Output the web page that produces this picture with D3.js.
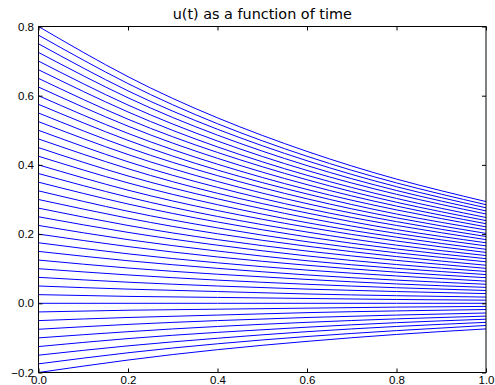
<!DOCTYPE html>
<html>
<head>
<meta charset="utf-8">
<script src="https://cdn.jsdelivr.net/npm/d3@7"></script>
<style>
  body { margin: 0; background: #fff; }
  svg { display: block; font-family: "DejaVu Sans", sans-serif; }
  .tick text { font-size: 11.5px; fill: #000; }
  .title { font-size: 14.4px; }
</style>
</head>
<body>
<div id="chart"></div>
<script>
// sample times along the x axis
var times = [0, 0.2, 0.4, 0.6, 0.8, 1.0];

// u(t) for each curve, read at the times above
var curves = [
  [0.800, 0.655, 0.536, 0.439, 0.359, 0.294],
  [0.775, 0.635, 0.519, 0.425, 0.348, 0.285],
  [0.750, 0.614, 0.503, 0.412, 0.337, 0.276],
  [0.725, 0.594, 0.486, 0.398, 0.326, 0.267],
  [0.700, 0.573, 0.469, 0.384, 0.315, 0.258],
  [0.675, 0.553, 0.452, 0.370, 0.303, 0.248],
  [0.650, 0.532, 0.436, 0.357, 0.292, 0.239],
  [0.625, 0.512, 0.419, 0.343, 0.281, 0.230],
  [0.600, 0.491, 0.402, 0.329, 0.270, 0.221],
  [0.575, 0.471, 0.385, 0.316, 0.258, 0.212],
  [0.550, 0.450, 0.369, 0.302, 0.247, 0.202],
  [0.525, 0.430, 0.352, 0.288, 0.236, 0.193],
  [0.500, 0.409, 0.335, 0.274, 0.225, 0.184],
  [0.475, 0.389, 0.318, 0.261, 0.213, 0.175],
  [0.450, 0.368, 0.302, 0.247, 0.202, 0.166],
  [0.425, 0.348, 0.285, 0.233, 0.191, 0.156],
  [0.400, 0.327, 0.268, 0.220, 0.180, 0.147],
  [0.375, 0.307, 0.251, 0.206, 0.168, 0.138],
  [0.350, 0.287, 0.235, 0.192, 0.157, 0.129],
  [0.325, 0.266, 0.218, 0.178, 0.146, 0.120],
  [0.300, 0.246, 0.201, 0.165, 0.135, 0.110],
  [0.275, 0.225, 0.184, 0.151, 0.124, 0.101],
  [0.250, 0.205, 0.168, 0.137, 0.112, 0.092],
  [0.225, 0.184, 0.151, 0.123, 0.101, 0.083],
  [0.200, 0.164, 0.134, 0.110, 0.090, 0.074],
  [0.175, 0.143, 0.117, 0.096, 0.079, 0.064],
  [0.150, 0.123, 0.101, 0.082, 0.067, 0.055],
  [0.125, 0.102, 0.084, 0.069, 0.056, 0.046],
  [0.100, 0.082, 0.067, 0.055, 0.045, 0.037],
  [0.075, 0.061, 0.050, 0.041, 0.034, 0.028],
  [0.050, 0.041, 0.034, 0.027, 0.022, 0.018],
  [0.025, 0.020, 0.017, 0.014, 0.011, 0.009],
  [0.000, 0.000, 0.000, 0.000, 0.000, 0.000],
  [-0.025, -0.020, -0.017, -0.014, -0.011, -0.009],
  [-0.050, -0.041, -0.034, -0.027, -0.022, -0.018],
  [-0.075, -0.061, -0.050, -0.041, -0.034, -0.028],
  [-0.100, -0.082, -0.067, -0.055, -0.045, -0.037],
  [-0.125, -0.102, -0.084, -0.069, -0.056, -0.046],
  [-0.150, -0.123, -0.101, -0.082, -0.067, -0.055],
  [-0.175, -0.143, -0.117, -0.096, -0.079, -0.064],
  [-0.200, -0.164, -0.134, -0.110, -0.090, -0.074]
];

var xTicks = [0, 0.2, 0.4, 0.6, 0.8, 1.0];
var yTicks = [-0.2, 0, 0.2, 0.4, 0.6, 0.8];

var width = 495, height = 385;
var margin = { top: 26.5, right: 9, bottom: 12.5, left: 38.5 };

var svg = d3.select('#chart').append('svg')
  .attr('width', width)
  .attr('height', height);

var x = d3.scaleLinear()
  .domain([0, 1])
  .range([margin.left, width - margin.right]);

var y = d3.scaleLinear()
  .domain([-0.2, 0.8])
  .range([height - margin.bottom, margin.top]);

var fmt = function(d) { return d3.format('.1f')(d).replace('-', '\u2212'); };

// curves
var line = d3.line()
  .x(function(d, i) { return x(times[i]); })
  .y(function(d) { return y(d); })
  .curve(d3.curveNatural);

svg.append('g')
  .selectAll('path')
  .data(curves)
  .enter()
  .append('path')
  .attr('d', line)
  .attr('fill', 'none')
  .attr('stroke', '#0000ff')
  .attr('stroke-width', 1);

// axes, ticks pointing inward
var tickLen = 4;
svg.append('g')
  .attr('transform', 'translate(0,' + y(-0.2) + ')')
  .call(d3.axisBottom(x).tickValues(xTicks).tickSize(-tickLen).tickPadding(3.5).tickFormat(fmt))
  .call(function(g) { g.select('.domain').remove(); });

svg.append('g')
  .attr('transform', 'translate(0,' + y(0.8) + ')')
  .call(d3.axisTop(x).tickValues(xTicks).tickSize(-tickLen).tickFormat(''))
  .call(function(g) { g.select('.domain').remove(); });

svg.append('g')
  .attr('transform', 'translate(' + x(0) + ',0)')
  .call(d3.axisLeft(y).tickValues(yTicks).tickSize(-tickLen).tickPadding(4.5).tickFormat(fmt))
  .call(function(g) { g.select('.domain').remove(); });

svg.append('g')
  .attr('transform', 'translate(' + x(1) + ',0)')
  .call(d3.axisRight(y).tickValues(yTicks).tickSize(-tickLen).tickFormat(''))
  .call(function(g) { g.select('.domain').remove(); });

svg.selectAll('.tick line').attr('stroke', '#000');

// frame
svg.append('rect')
  .attr('x', x(0))
  .attr('y', y(0.8))
  .attr('width', x(1) - x(0))
  .attr('height', y(-0.2) - y(0.8))
  .attr('fill', 'none')
  .attr('stroke', '#000')
  .attr('stroke-width', 1);

svg.append('text')
  .attr('class', 'title')
  .attr('x', (x(0) + x(1)) / 2)
  .attr('y', 19)
  .style('text-anchor', 'middle')
  .text('u(t) as a function of time');
</script>
</body>
</html>
